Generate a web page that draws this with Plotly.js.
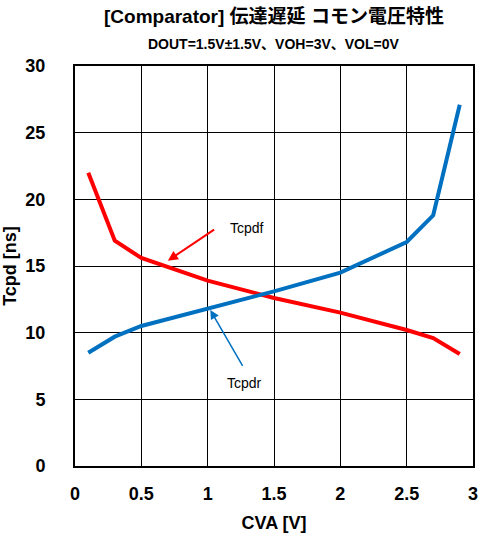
<!DOCTYPE html>
<html><head><meta charset="utf-8">
<script src="https://cdn.plot.ly/plotly-3.0.1.min.js"></script>
<style>html,body{margin:0;padding:0;background:#fff}#c{width:479px;height:536px}</style>
</head><body><div id="c"></div>
<script>
const cvaF = [0.1, 0.3, 0.5, 1.0, 1.5, 2.0, 2.5, 2.7, 2.9];
const tcpdf = [22.0, 16.9, 15.6, 13.9, 12.6, 11.5, 10.2, 9.6, 8.4];
const cvaR = [0.1, 0.3, 0.5, 1.0, 1.5, 2.0, 2.5, 2.7, 2.9];
const tcpdr = [8.5, 9.7, 10.5, 11.8, 13.1, 14.5, 16.8, 18.8, 27.1];
const xTicks = [0, 0.5, 1, 1.5, 2, 2.5, 3];
const xTickText = ['0', '0.5', '1', '1.5', '2', '2.5', '3'];
const yTicks = [0, 5, 10, 15, 20, 25, 30];

const traces = [
  {x: cvaF, y: tcpdf, mode: 'lines', line: {color: '#FF0000', width: 4}, name: 'Tcpdf'},
  {x: cvaR, y: tcpdr, mode: 'lines', line: {color: '#0070C0', width: 4}, name: 'Tcpdr'}
];
const bold = {family: 'Liberation Sans, Arial, sans-serif', weight: 'bold', color: '#000'};
const layout = {
  width: 479, height: 536,
  margin: {l: 75, r: 6, t: 66, b: 70},
  showlegend: false,
  paper_bgcolor: '#fff', plot_bgcolor: '#fff',
  font: {family: 'Liberation Sans, Arial, sans-serif', color: '#000'},
  xaxis: {range: [0, 3], tickvals: xTicks, ticktext: xTickText, showgrid: true, gridcolor: '#000', gridwidth: 1,
    showline: true, linecolor: '#000', linewidth: 2, mirror: true, zeroline: false,
    ticks: '', ticklabelstandoff: 10,
    tickfont: Object.assign({size: 18}, bold),
    title: {text: 'CVA [V]', font: Object.assign({size: 18}, bold), standoff: 14}},
  yaxis: {range: [0, 30], tickvals: yTicks, showgrid: true, gridcolor: '#000', gridwidth: 1,
    showline: true, linecolor: '#000', linewidth: 2, mirror: true, zeroline: false,
    ticks: '', ticklabelstandoff: 24,
    tickfont: Object.assign({size: 18}, bold),
    title: {text: 'Tcpd [ns]', font: Object.assign({size: 18}, bold), standoff: 8}},
  annotations: [
    {xref: 'paper', yref: 'paper', x: 0.5, y: 1, yshift: 50, xanchor: 'center', yanchor: 'middle', showarrow: false,
      text: '[Comparator] 伝達遅延 コモン電圧特性',
      font: {size: 19, family: 'Liberation Sans, Noto Sans CJK JP, sans-serif', weight: 'bold'}},
    {xref: 'paper', yref: 'paper', x: 0.5, y: 1, yshift: 22, xanchor: 'center', yanchor: 'middle', showarrow: false,
      text: 'DOUT=1.5V±1.5V、VOH=3V、VOL=0V',
      font: {size: 14, family: 'Liberation Sans, Noto Sans CJK JP, sans-serif', weight: 'bold'}},
    {x: 0.70, y: 15.4, ax: 1.06, ay: 17.8, axref: 'x', ayref: 'y', xref: 'x', yref: 'y', text: '', showarrow: true,
      arrowcolor: '#FF0000', arrowwidth: 2, arrowhead: 2, arrowsize: 1},
    {x: 1.15, y: 17.85, xref: 'x', yref: 'y', text: 'Tcpdf', showarrow: false, xanchor: 'left',
      font: {size: 14, family: 'Liberation Sans, Arial'}},
    {x: 1.02, y: 11.7, ax: 1.27, ay: 7.4, axref: 'x', ayref: 'y', xref: 'x', yref: 'y', text: '', showarrow: true,
      arrowcolor: '#0070C0', arrowwidth: 1.5, arrowhead: 2, arrowsize: 1.2},
    {x: 1.28, y: 6.2, xref: 'x', yref: 'y', text: 'Tcpdr', showarrow: false,
      font: {size: 14, family: 'Liberation Sans, Arial'}}
  ]
};
Plotly.newPlot('c', traces, layout, {displayModeBar: false, staticPlot: true});
</script></body></html>
